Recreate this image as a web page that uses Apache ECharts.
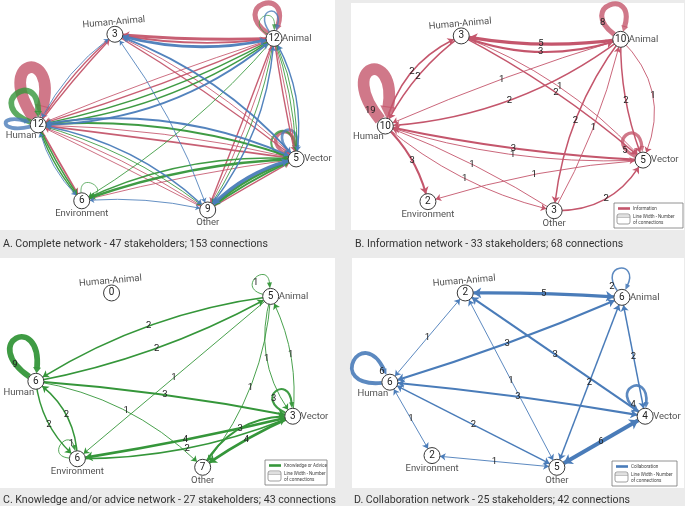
<!DOCTYPE html>
<html><head><meta charset="utf-8">
<script src="https://cdn.jsdelivr.net/npm/echarts@6/dist/echarts.min.js"></script>
<style>html,body{margin:0;padding:0;background:#ebebeb}#c{width:685px;height:506px}</style>
</head><body><div id="c"></div><script>
// ---------- DATA ----------
const nodeNames = ['Human-Animal','Animal','Human','Vector','Environment','Other'];
const countsA = [3,12,12,5,6,9];
const countsB = [3,10,10,5,2,3];
const countsC = [0,5,6,3,6,7];
const countsD = [2,6,6,4,2,5];
// node layout coordinates (percent of panel)
const layoutXA = [34.3,81.8,11.4,88.4,24.4,62.0];
const layoutYA = [14.9,16.7,54.3,69.1,87.3,91.3];
const layoutXB = [33.1,81.0,10.3,87.7,23.1,61.0];
const layoutYB = [14.5,16.0,54.2,69.2,87.5,91.5];
const layoutXC = [33.3,80.8,10.7,87.4,23.1,60.5];
const layoutYC = [15.2,16.7,53.6,68.8,87.3,91.0];
const layoutXD = [34.1,81.3,11.4,88.3,24.1,61.7];
const layoutYD = [15.2,17.1,54.0,68.8,85.9,91.0];
// information network edges [source, target, connections]
const infoEdges = [
  ['Animal','Human-Animal',5],['Human-Animal','Animal',3],
  ['Human','Human-Animal',2],['Human-Animal','Human',2],
  ['Animal','Human',1],['Animal','Human',2],
  ['Human-Animal','Vector',2],['Human-Animal','Vector',1],
  ['Animal','Other',2],['Other','Animal',1],
  ['Animal','Vector',2],['Animal','Vector',1],
  ['Vector','Human',3],['Human','Vector',1],
  ['Human','Environment',3],
  ['Other','Human',1],['Human','Other',1],
  ['Vector','Environment',1],['Other','Vector',2]
];
const infoLoops = [['Human',19],['Animal',8],['Vector',5]];
// knowledge / advice network
const knowEdges = [
  ['Animal','Human',2],['Human','Animal',2],
  ['Animal','Environment',1],['Human','Vector',3],['Human','Other',1],
  ['Human','Environment',2],['Environment','Human',2],
  ['Animal','Vector',1],['Vector','Animal',1],['Animal','Other',1],
  ['Vector','Environment',4],['Environment','Vector',2],
  ['Other','Vector',3],['Vector','Other',4]
];
const knowLoops = [['Human',9],['Animal',1],['Vector',3],['Environment',1]];
// collaboration network (two-way)
const collabEdges = [
  ['Human-Animal','Animal',5],['Human','Human-Animal',1],['Animal','Human',3],
  ['Human-Animal','Vector',3],['Human-Animal','Other',1],['Animal','Other',2],
  ['Animal','Vector',2],['Human','Vector',3],['Human','Environment',1],
  ['Human','Other',2],['Environment','Other',1],['Other','Vector',6]
];
const collabLoops = [['Human',6],['Animal',2],['Vector',4]];
const captions = [
  'A. Complete network - 47 stakeholders; 153 connections',
  'B. Information network - 33 stakeholders; 68 connections',
  'C. Knowledge and/or advice network - 27 stakeholders; 43 connections',
  'D. Collaboration network - 25 stakeholders; 42 connections'
];
const legendNames = ['Information','Knowledge or Advice','Collaboration'];

// ---------- STYLE ----------
const FONT = 'Roboto, "Liberation Sans", sans-serif';
const RED = '#c4566c', GREEN = '#35963a', BLUE = '#4a7cb9';
const infoCurve = [0.08,-0.18,0.25,-0.12,-0.03,0.15,0.06,0.12,-0.14,-0.07,-0.1,0.35,0.04,-0.09,0.15,-0.05,-0.12,-0.06,-0.3];
const knowCurve = [-0.11,-0.08,0,0.03,0.16,-0.2,-0.25,-0.25,-0.15,0.16,0.02,-0.1,0.3,-0.05];
const collabCurve = [0.02,0,0.03,0,0,0,0,0.02,0,0,0,0];
// loop geometry: [angle, reach, spread, labelDx, labelDy]
const infoLoopGeo = [[-105,55,24,-15,-15],[-108,34,35,-18,-17],[-125,28,30,-18,-9]];
const knowLoopGeo = [[-115,45,30,-21,-17],[-130,22,35,-15,-14],[-125,28,30,-19,-18],[-140,20,35,-6,-15]];
const collabLoopGeo = [[-150,40,35,-8,-11],[-95,27,30,-10,-11],[-115,30,30,-12,-12]];
const allLoopGeo = {
  info:[[-100,55,24],[-108,34,35],[-125,28,30]],
  know:[[-125,36,35],[-118,22,30],[-132,30,35],[-60,18,35]],
  collab:[[-178,30,15],[-100,25,25],[-110,28,25]]
};
const grids = [
  {left:0,top:0,width:335,height:230},
  {left:351,top:3,width:333,height:227},
  {left:0,top:258,width:335,height:230},
  {left:352,top:258,width:332,height:230}
];

const nameLabel = {
  'Human-Animal':{position:'inside',offset:[0,-12],rotate:5},
  'Animal':{position:'right',distance:8},
  'Human':{position:'inside',offset:[-17,11]},
  'Vector':{position:'right',distance:8},
  'Environment':{position:'inside',offset:[0,13]},
  'Other':{position:'inside',offset:[0,13]}
};

function links(edges, curves, color, both, wfn, sfn) {
  return edges.map((e,i)=>({
    source:e[0], target:e[1], value:e[2],
    symbol: both ? ['arrow','arrow'] : ['none','arrow'],
    symbolSize: both ? [sfn(e[2]), sfn(e[2])] : [1, sfn(e[2])],
    lineStyle:{color:color, width:wfn(e[2]), curveness:curves[i], opacity:1}
  }));
}

function graphSeries(gi, lx, ly, counts, lk) {
  return {
    type:'graph', coordinateSystem:'cartesian2d', xAxisIndex:gi, yAxisIndex:gi,
    symbol:'circle', symbolSize:16, z:3, silent:true, animation:false,
    itemStyle:{color:'#fff', borderColor:'#3a3a3a', borderWidth:1},
    label:{show:true, position:'inside', formatter:p=>String(p.data.cnt), fontSize:10, color:'#222', fontFamily:FONT},
    edgeLabel:{show:false},
    data: nodeNames.map((n,i)=>({name:n, value:[lx[i], ly[i]], cnt:counts[i]})),
    links: lk
  };
}

function edgeLabelSeries(gi, lx, ly, edges, curves) {
  return {
    type:'custom', coordinateSystem:'cartesian2d', xAxisIndex:gi, yAxisIndex:gi, z:4, silent:true, animation:false,
    data: edges.map(e=>{const a=nodeNames.indexOf(e[0]), b=nodeNames.indexOf(e[1]); return [lx[a],ly[a],lx[b],ly[b],e[2]];}),
    encode:{x:[0,2], y:[1,3]},
    renderItem:(params, api)=>{
      const p1=api.coord([api.value(0),api.value(1)]), p2=api.coord([api.value(2),api.value(3)]);
      const c=curves[params.dataIndex];
      const cp=[(p1[0]+p2[0])/2-(p1[1]-p2[1])*c, (p1[1]+p2[1])/2-(p2[0]-p1[0])*c];
      const m=[0.25*p1[0]+0.5*cp[0]+0.25*p2[0], 0.25*p1[1]+0.5*cp[1]+0.25*p2[1]];
      return {type:'text', x:m[0], y:m[1], style:{text:String(api.value(4)), fontSize:9.5, fill:'#222',
        align:'center', verticalAlign:'middle', fontFamily:FONT}};
    }
  };
}

function nameSeries(gi, lx, ly) {
  return {
    type:'scatter', xAxisIndex:gi, yAxisIndex:gi, symbolSize:0, z:5, silent:true, animation:false,
    label:{show:true, formatter:'{b}', fontSize:9.5, color:'#1e1e1e', fontFamily:FONT},
    data: nodeNames.map((n,i)=>({name:n, value:[lx[i], ly[i]], label:nameLabel[n]}))
  };
}

const rad = d=>d*Math.PI/180;
const U = a=>[Math.cos(rad(a)), Math.sin(rad(a))];
function loopSeries(gi, lx, ly, loops, geos, colors, showLbl, op) {
  return {
    type:'custom', coordinateSystem:'cartesian2d', xAxisIndex:gi, yAxisIndex:gi, z:1, silent:true, animation:false,
    data: loops.map(l=>{const k=nodeNames.indexOf(l[0]); return [lx[k], ly[k]];}),
    renderItem:(params, api)=>{
      const i = params.dataIndex, w = loops[i][1], g = geos[i], col = colors[i];
      const p = api.coord([api.value(0), api.value(1)]);
      const ang=g[0], reach=g[1], spr=g[2];
      const D = reach/(0.75*Math.cos(rad(spr)));
      const r0 = 8, a1 = ang-spr, a2 = ang+spr;
      const S=[p[0]+r0*U(a1)[0], p[1]+r0*U(a1)[1]];
      const E=[p[0]+r0*U(a2)[0], p[1]+r0*U(a2)[1]];
      const C1=[p[0]+D*U(a1)[0], p[1]+D*U(a1)[1]];
      const C2=[p[0]+D*U(a2)[0], p[1]+D*U(a2)[1]];
      const lw = 0.3+0.6*w;
      let dx=E[0]-C2[0], dy=E[1]-C2[1]; const L=Math.hypot(dx,dy); dx/=L; dy/=L;
      const al = Math.max(6, lw*1.0), aw = Math.max(5, lw*1.4);
      const B=[E[0]-dx*al, E[1]-dy*al];
      const px=-dy, py=dx;
      const ch = [
        {type:'bezierCurve', shape:{x1:S[0],y1:S[1],cpx1:C1[0],cpy1:C1[1],cpx2:C2[0],cpy2:C2[1],x2:B[0]+dx*1,y2:B[1]+dy*1},
         style:{stroke:col, fill:null, lineWidth:lw, opacity:op}},
        {type:'polygon', shape:{points:[E,[B[0]+px*aw/2,B[1]+py*aw/2],[B[0]-px*aw/2,B[1]-py*aw/2]]},
         style:{fill:col, opacity:op}}
      ];
      if (showLbl) ch.push({type:'text', x:p[0]+g[3], y:p[1]+g[4],
        style:{text:String(w), fontSize:9.5, fill:'#222', align:'center', verticalAlign:'middle', fontFamily:FONT}});
      return {type:'group', children:ch};
    }
  };
}

// panel A combined edges
const allA = [];
infoEdges.forEach(e=>allA.push({e, color:RED, both:false}));
knowEdges.forEach(e=>allA.push({e, color:GREEN, both:false}));
collabEdges.forEach(e=>allA.push({e, color:BLUE, both:true}));
const groups = {};
allA.forEach(o=>{const k=[o.e[0],o.e[1]].sort().join('|'); (groups[k]=groups[k]||[]).push(o);});
Object.values(groups).forEach(arr=>{
  const n = arr.length;
  arr.forEach((o,i)=>{
    const off = 0.08 + (i-(n-1)/2)*0.05;
    o.c = (o.e[0] < o.e[1]) ? off : -off;
  });
});
const linksA = allA.map(o=>({
  source:o.e[0], target:o.e[1], value:o.e[2],
  symbol: o.both ? ['arrow','arrow'] : ['none','arrow'],
  symbolSize: o.both ? [4+o.e[2]*0.5, 4+o.e[2]*0.5] : [1, 4+o.e[2]*0.5],
  lineStyle:{color:o.color, width:0.4+0.5*o.e[2], curveness:o.c, opacity:0.95}
}));

const wB = w=>0.3+0.6*w, sB = w=>5+w*0.6;

const loopsA = [...infoLoops, ...knowLoops, ...collabLoops];
const loopGeoA = [...allLoopGeo.info, ...allLoopGeo.know, ...allLoopGeo.collab];
const loopColA = [...infoLoops.map(()=>RED), ...knowLoops.map(()=>GREEN), ...collabLoops.map(()=>BLUE)];

const series = [
  loopSeries(0, layoutXA, layoutYA, loopsA, loopGeoA, loopColA, false, 0.8),
  graphSeries(0, layoutXA, layoutYA, countsA, linksA),
  nameSeries(0, layoutXA, layoutYA),
  loopSeries(1, layoutXB, layoutYB, infoLoops, infoLoopGeo, infoLoops.map(()=>RED), true, 0.8),
  graphSeries(1, layoutXB, layoutYB, countsB, links(infoEdges, infoCurve, RED, false, wB, sB)),
  edgeLabelSeries(1, layoutXB, layoutYB, infoEdges, infoCurve),
  nameSeries(1, layoutXB, layoutYB),
  loopSeries(2, layoutXC, layoutYC, knowLoops, knowLoopGeo, knowLoops.map(()=>GREEN), true, 0.95),
  graphSeries(2, layoutXC, layoutYC, countsC, links(knowEdges, knowCurve, GREEN, false, wB, sB)),
  edgeLabelSeries(2, layoutXC, layoutYC, knowEdges, knowCurve),
  nameSeries(2, layoutXC, layoutYC),
  loopSeries(3, layoutXD, layoutYD, collabLoops, collabLoopGeo, collabLoops.map(()=>BLUE), true, 0.9),
  graphSeries(3, layoutXD, layoutYD, countsD, links(collabEdges, collabCurve, BLUE, true, wB, sB)),
  edgeLabelSeries(3, layoutXD, layoutYD, collabEdges, collabCurve),
  nameSeries(3, layoutXD, layoutYD)
];

function legendBox(x, y, w, color, name) {
  const t = {fontSize:4.6, fill:'#444', fontFamily:FONT, verticalAlign:'middle'};
  return [
    {type:'rect', shape:{x:x, y:y, width:w, height:25}, style:{fill:'#fff', stroke:'#777', lineWidth:0.8}},
    {type:'line', shape:{x1:x+4, y1:y+5.5, x2:x+16, y2:y+5.5}, style:{stroke:color, lineWidth:2.6}},
    {type:'text', x:x+19, y:y+5.5, style:Object.assign({text:name}, t)},
    {type:'rect', shape:{x:x+3, y:y+11, width:13, height:10, r:2}, style:{fill:'#fff', stroke:'#777', lineWidth:0.7}},
    {type:'line', shape:{x1:x+3, y1:y+13, x2:x+16, y2:y+13}, style:{stroke:'#999', lineWidth:0.6}},
    {type:'line', shape:{x1:x+3, y1:y+14.5, x2:x+16, y2:y+14.5}, style:{stroke:'#999', lineWidth:0.6}},
    {type:'text', x:x+19, y:y+14, style:Object.assign({text:'Line Width - Number'}, t)},
    {type:'text', x:x+19, y:y+19.5, style:Object.assign({text:'of connections'}, t)}
  ];
}

const capPos = [[3,244],[355,244],[3,500],[354,500]];
const graphic = [
  ...captions.map((c,i)=>({type:'text', x:capPos[i][0], y:capPos[i][1],
    style:{text:c, fontSize:10.6, fill:'#333', fontFamily:FONT, verticalAlign:'middle'}})),
  ...legendBox(614, 203, 69, RED, legendNames[0]),
  ...legendBox(265, 460, 62, GREEN, legendNames[1]),
  ...legendBox(612, 461, 65, BLUE, legendNames[2])
];

const chart = echarts.init(document.getElementById('c'), null, {renderer:'canvas'});
chart.setOption({
  animation:false,
  backgroundColor:'#ebebeb',
  grid: grids.map(g=>Object.assign({show:true, backgroundColor:'#fff', borderWidth:0, containLabel:false}, g)),
  xAxis: grids.map((g,i)=>({type:'value', gridIndex:i, min:0, max:100, show:false})),
  yAxis: grids.map((g,i)=>({type:'value', gridIndex:i, min:0, max:100, inverse:true, show:false})),
  series: series,
  graphic: graphic
});
</script></body></html>
